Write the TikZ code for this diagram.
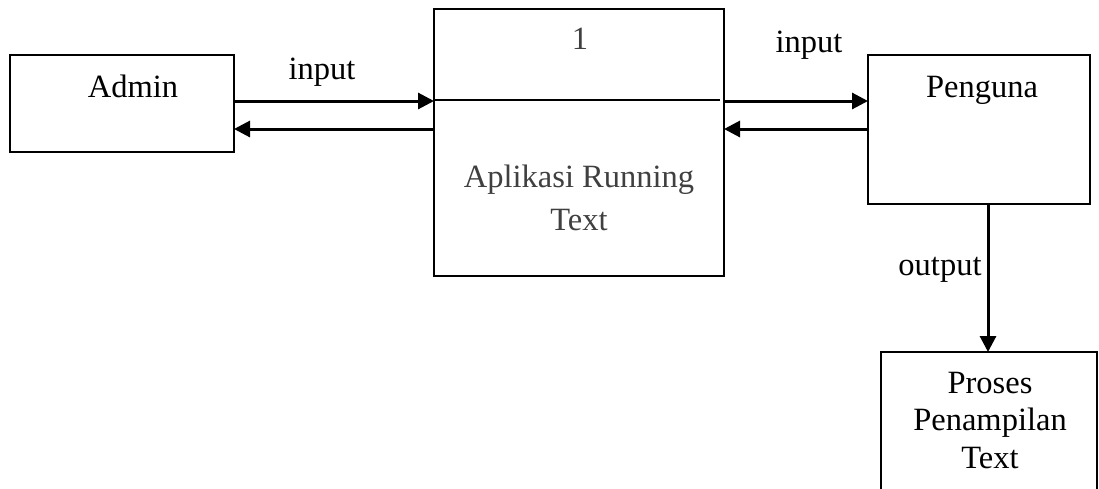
\documentclass[tikz,border=0pt]{standalone}
\usepackage{fontspec}
\setmainfont{Liberation Serif}
\usetikzlibrary{arrows.meta}
\definecolor{txtgray}{HTML}{404040}
\begin{document}
\begin{tikzpicture}[x=1pt,y=-1pt,
  box/.style={draw,line width=1.8pt,inner sep=0pt,outer sep=0pt},
  lbl/.style={font=\fontsize{32.5}{38}\selectfont,anchor=base,inner sep=0pt},
  arr/.style={line width=3pt,-{Triangle[length=16pt,width=16pt]}}]
\useasboundingbox (0,0) rectangle (1099,488);
\clip (0,0) rectangle (1099,488);
\fill[white] (0,0) rectangle (1099,488);
% boxes
\node[box,minimum width=224pt,minimum height=97pt] (admin) at (122,103.5) {};
\node[box,minimum width=290pt,minimum height=267pt] (proc) at (579,142.5) {};
\node[box,minimum width=222pt,minimum height=149pt] (user) at (979,129.5) {};
\node[box,minimum width=216pt,minimum height=156pt] (out) at (989,430) {};
% helper coordinates
\coordinate (ya) at (0,101);
\coordinate (yb) at (0,129);
\coordinate (yd) at (0,100);
\coordinate (xo) at (988,0);
% divider in process box
\draw[line width=1.8pt] (proc.west |- yd) -- ([xshift=-4pt]proc.east |- yd);
% texts
\node[lbl] (tadmin) at (133,97) {Admin};
\node[lbl] (tuser) at (982,97) {Penguna};
\node[lbl,text=txtgray] (tnum) at (580,49) {1};
\node[lbl,text=txtgray] (tapp1) at (579,187) {Aplikasi Running};
\node[lbl,text=txtgray] (tapp2) at (579,230) {Text};
\node[lbl] (tout1) at (990,393) {Proses};
\node[lbl] (tout2) at (990,430) {Penampilan};
\node[lbl] (tout3) at (990,468) {Text};
\node[lbl] (lin1) at (322,79) {input};
\node[lbl] (lin2) at (809,52) {input};
\node[lbl] (lout) at (940,275) {output};
% connectors
\draw[arr] (admin.east |- ya) -- (proc.west |- ya);
\draw[arr] (proc.west |- yb) -- (admin.east |- yb);
\draw[arr] (proc.east |- ya) -- (user.west |- ya);
\draw[arr] (user.west |- yb) -- (proc.east |- yb);
\draw[arr] (user.south -| xo) -- (out.north -| xo);
\end{tikzpicture}
\end{document}
